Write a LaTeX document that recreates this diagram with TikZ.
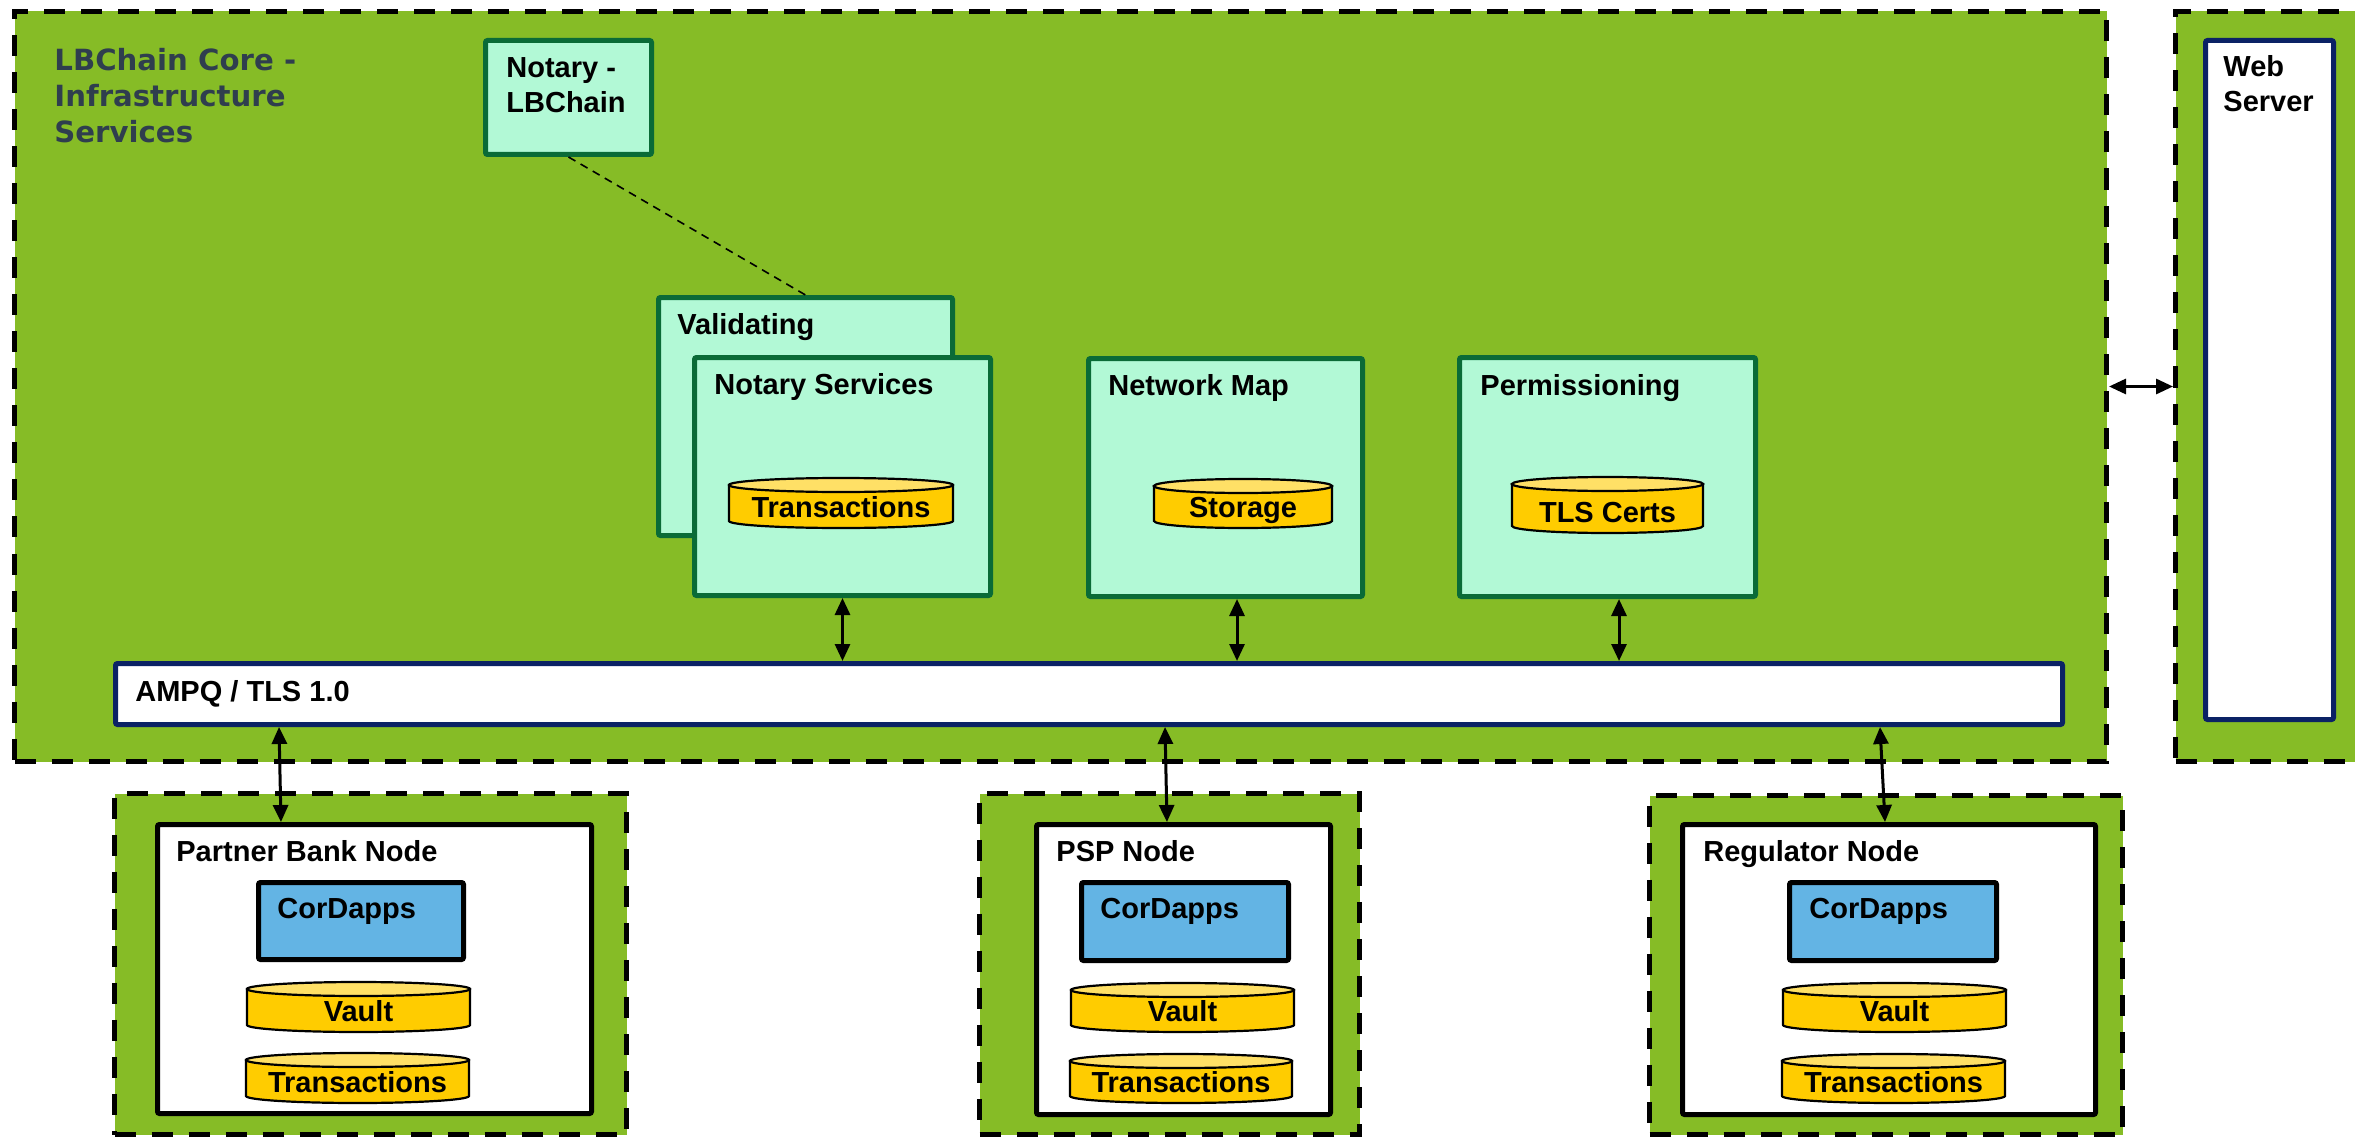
\documentclass[tikz,border=0pt]{standalone}
\usepackage{fontspec}
\setmainfont{Liberation Sans}
\newfontfamily\titlefont{DejaVu Sans}
\usetikzlibrary{arrows.meta,fit}
\definecolor{bggreen}{RGB}{134,188,38}
\definecolor{mint}{RGB}{178,249,214}
\definecolor{dkgreen}{RGB}{10,107,55}
\definecolor{navy}{RGB}{11,34,101}
\definecolor{cordblue}{RGB}{99,180,228}
\definecolor{cylyellow}{RGB}{255,204,0}
\definecolor{cyltopyellow}{RGB}{255,224,102}
\definecolor{slate}{RGB}{47,62,78}
\newcommand{\dbcyl}[6]{%
  \pgfmathsetmacro\dbcx{(#2+#3)/2}%
  \pgfmathsetmacro\dbrx{(#3-#2)/2}%
  \pgfmathsetmacro\dbta{#4+7}%
  \pgfmathsetmacro\dbba{#5-7}%
  \pgfmathsetmacro\dbty{#5-11}%
  \filldraw[cylbody] (#2,\dbta) -- (#2,\dbba) arc[start angle=180,end angle=0,x radius=\dbrx,y radius=7] -- (#3,\dbta) -- cycle;
  \filldraw[cyltop] (\dbcx,\dbta) ellipse[x radius=\dbrx,y radius=7];
  \node[lbl,anchor=base] (#1) at (\dbcx,\dbty) {#6};
}
\begin{document}
\begin{tikzpicture}[x=0.5pt,y=-0.5pt,
  container/.style={draw=black,fill=bggreen,line width=2.5pt,dash pattern=on 10.5pt off 8pt,inner sep=0pt},
  svc/.style={draw=dkgreen,fill=mint,line width=2.5pt,inner sep=0pt,rounded corners=1pt},
  navybox/.style={draw=navy,fill=white,line width=2.5pt,inner sep=0pt,rounded corners=1pt},
  nodebox/.style={draw=black,fill=white,line width=2.5pt,inner sep=0pt,rounded corners=1pt},
  appbox/.style={draw=black,fill=cordblue,line width=2.5pt,inner sep=0pt,rounded corners=1pt},
  lbl/.style={font=\bfseries\fontsize{14.5}{17.5}\selectfont,inner sep=0pt,anchor=base west},
  ttl/.style={font=\titlefont\bfseries\fontsize{14.6}{17.5}\selectfont,text=slate,inner sep=0pt,anchor=base west},
  arr/.style={line width=1.5pt,{Triangle[length=8.5pt,width=7.5pt]}-{Triangle[length=8.5pt,width=7.5pt]}},
  cylbody/.style={draw=black,fill=cylyellow,line width=1.1pt},
  cyltop/.style={draw=black,fill=cyltopyellow,line width=1.1pt},
  link/.style={draw=black,line width=0.8pt,dash pattern=on 4pt off 3pt}
]
\useasboundingbox (0,0) rectangle (2355,1139);
\clip (0,0) rectangle (2355,1139);

% containers
\node[container,fit={(14.5,11.5) (2106.5,761.5)}] (core) {};
\node[container,fit={(2175.5,11.5) (2400,761.5)}] (webouter) {};
\node[container,fit={(114.5,793.5) (626.5,1134.5)}] (pbouter) {};
\node[container,fit={(979.5,793.5) (1359.5,1134.5)}] (pspouter) {};
\node[container,fit={(1649.5,795.5) (2122.5,1134.5)}] (regouter) {};

% title
\node[ttl] (t1) at (54,71) {LBChain Core -};
\node[ttl] (t2) at (54,107) {Infrastructure};
\node[ttl] (t3) at (54,143) {Services};

% web server
\node[navybox,fit={(2205.5,40.5) (2333.5,719.5)}] (web) {};
\node[lbl] (w1) at (2223,77) {Web};
\node[lbl] (w2) at (2223,112) {Server};

% notary lbchain
\node[svc,fit={(485.5,40.5) (651.5,154.5)}] (nl) {};
\node[lbl] (nl1) at (506,78) {Notary -};
\node[lbl] (nl2) at (506,113) {LBChain};

% validating + notary services
\node[svc,fit={(658.5,297.5) (952.5,535.5)}] (val) {};
\node[lbl] (vallbl) at (677,334) {Validating};
\node[svc,fit={(694.5,357.5) (990.5,595.5)}] (ns) {};
\node[lbl] (nslbl) at (714,394) {Notary Services};
\dbcyl{ntx}{729}{953}{478}{528}{Transactions}

% network map
\node[svc,fit={(1088.5,358.5) (1362.5,596.5)}] (nm) {};
\node[lbl] (nmlbl) at (1108,395) {Network Map};
\dbcyl{stor}{1154}{1332}{479}{528}{Storage}

% permissioning
\node[svc,fit={(1459.5,357.5) (1755.5,596.5)}] (pm) {};
\node[lbl] (pmlbl) at (1480,395) {Permissioning};
\dbcyl{tls}{1512}{1703}{477}{533}{TLS Certs}

\draw[link] (nl.south) -- (val.north);

% bus
\node[navybox,fit={(115.5,663.5) (2062.5,724.5)}] (bar) {};
\node[lbl] (barlbl) at (135,701) {AMPQ / TLS 1.0};

% partner bank
\node[nodebox,fit={(157.5,824.5) (591.5,1113.5)}] (pb) {};
\node[lbl] (pblbl) at (176,861) {Partner Bank Node};
\node[appbox,fit={(258.5,882.5) (463.5,959.5)}] (pbapp) {};
\node[lbl] (pbapplbl) at (277,918) {CorDapps};
\dbcyl{pbvault}{247}{470}{982}{1032}{Vault}
\dbcyl{pbtx}{246}{469}{1053}{1103}{Transactions}

% psp
\node[nodebox,fit={(1036.5,824.5) (1330.5,1114.5)}] (psp) {};
\node[lbl] (psplbl) at (1056,861) {PSP Node};
\node[appbox,fit={(1081.5,882.5) (1288.5,960.5)}] (pspapp) {};
\node[lbl] (pspapplbl) at (1100,918) {CorDapps};
\dbcyl{pspvault}{1071}{1294}{983}{1032}{Vault}
\dbcyl{psptx}{1070}{1292}{1054}{1103}{Transactions}

% regulator
\node[nodebox,fit={(1682.5,824.5) (2095.5,1114.5)}] (reg) {};
\node[lbl] (reglbl) at (1703,861) {Regulator Node};
\node[appbox,fit={(1789.5,882.5) (1996.5,960.5)}] (regapp) {};
\node[lbl] (regapplbl) at (1809,918) {CorDapps};
\dbcyl{regvault}{1783}{2006}{983}{1032}{Vault}
\dbcyl{regtx}{1782}{2005}{1054}{1103}{Transactions}

% arrows
\coordinate (xa2) at (1237,0);
\coordinate (xa3) at (1619,0);
\coordinate (xb1t) at (279,0);
\coordinate (xb1b) at (281,0);
\coordinate (xb2t) at (1165,0);
\coordinate (xb2b) at (1167,0);
\coordinate (xb3t) at (1880,0);
\coordinate (xb3b) at (1885,0);
\draw[arr] (ns.south) -- (ns.south |- bar.north);
\draw[arr] (nm.south -| xa2) -- (bar.north -| xa2);
\draw[arr] (pm.south -| xa3) -- (bar.north -| xa3);
\draw[arr] (bar.south -| xb1t) -- (pb.north -| xb1b);
\draw[arr] (bar.south -| xb2t) -- (psp.north -| xb2b);
\draw[arr] (bar.south -| xb3t) -- (reg.north -| xb3b);
\draw[arr] (core.east) -- (core.east -| webouter.west);
\end{tikzpicture}
\end{document}
